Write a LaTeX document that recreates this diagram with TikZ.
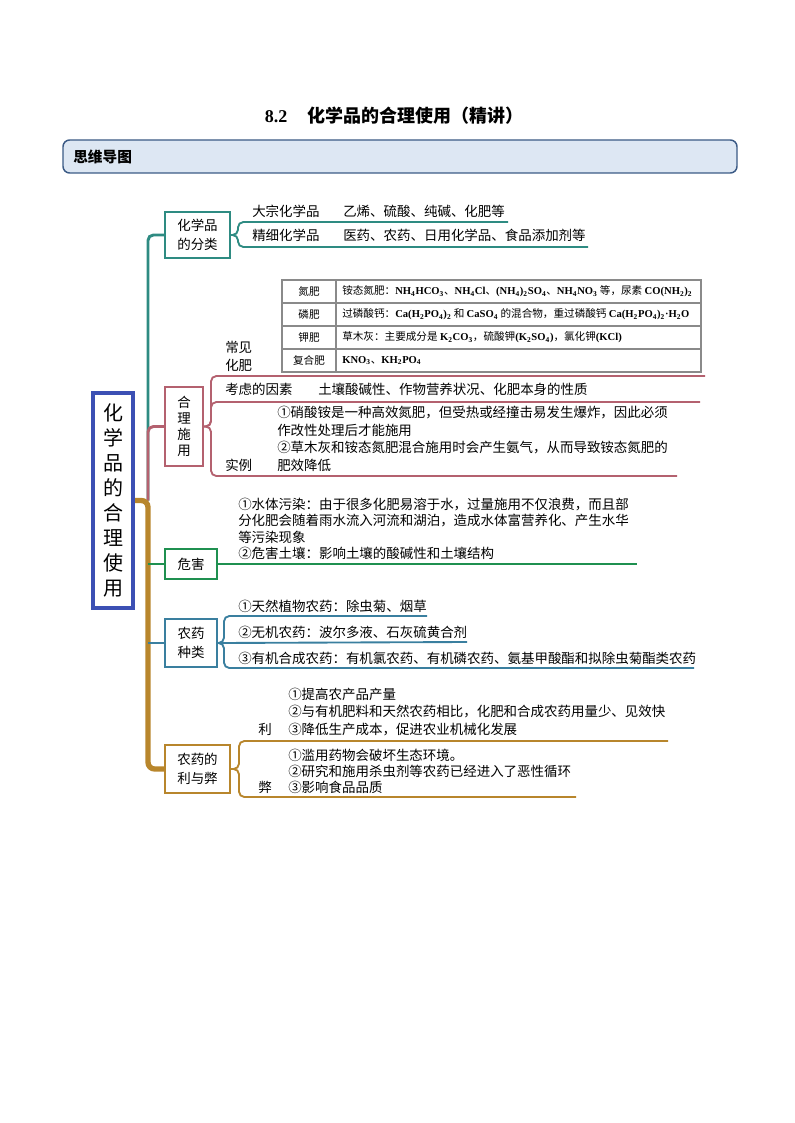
\documentclass[tikz,border=0pt]{standalone}
\usepackage{fontspec}
\setmainfont{Noto Sans CJK SC}
\newfontfamily\formfont{Liberation Serif}
\usetikzlibrary{positioning}
\definecolor{clsteal}{HTML}{2E8B82}
\definecolor{usepink}{HTML}{B4616F}
\definecolor{harmgreen}{HTML}{1F9050}
\definecolor{kindblue}{HTML}{3A7F9F}
\definecolor{progold}{HTML}{B8862C}
\definecolor{rootblue}{HTML}{3C50B4}
\definecolor{headfill}{HTML}{DDE7F3}
\definecolor{headline}{HTML}{3B5A85}
\definecolor{tablegray}{HTML}{8A8A8A}
\newcommand{\sbs}[1]{\textsubscript{#1}}
\newcommand{\fm}[1]{{\formfont\bfseries #1}}
\tikzset{
    branchbox/.style={draw, line width=1.1pt, fill=white, align=center, inner sep=0pt,
        font=\fontsize{10.1}{14}\selectfont},
    leaf/.style={anchor=west, inner sep=0pt, align=left,
        font=\fontsize{10.1}{13}\selectfont},
    cell/.style={inner sep=0pt, font=\fontsize{7.95}{9}\selectfont},
    branchline/.style={line width=2.2pt, rounded corners=4pt},
    twig/.style={line width=1.4pt, rounded corners=4pt}
}

\begin{document}
\begin{tikzpicture}[x=0.75pt, y=-0.75pt]
    \useasboundingbox (0,0) rectangle (794,1123);

    % titel en kop
    \node[inner sep=0pt, font=\fontsize{13.5}{16}\selectfont] (title) at (394,116)
        {\fm{8.2}\hspace{1.1em}\bfseries 化学品的合理使用（精讲）};
    \draw[headline, fill=headfill, line width=1.1pt, rounded corners=5pt] (63,140) rectangle (737,173);
    \node[anchor=west, inner sep=0pt, font=\fontsize{11}{13}\selectfont\bfseries] (headtext) at (73,157) {思维导图};

    % hoofdknoop en takken
    \node[draw=rootblue, line width=3pt, minimum width=30pt, minimum height=161.25pt, inner sep=0pt,
        align=center, font=\fontsize{15}{18.8}\selectfont] (root) at (113,500.5)
        {化\\学\\品\\的\\合\\理\\使\\用};

    \node[branchbox, draw=clsteal, minimum width=48.75pt, minimum height=34.5pt] (cls) at (197.5,235) {化学品\\的分类};
    \node[branchbox, draw=usepink, minimum width=28.5pt, minimum height=59.25pt,
        font=\fontsize{10.1}{12}\selectfont] (use) at (184,426.5) {合\\理\\施\\用};
    \node[branchbox, draw=harmgreen, minimum width=39pt, minimum height=22.5pt] (harm) at (191,564) {危害};
    \node[branchbox, draw=kindblue, minimum width=39pt, minimum height=36pt] (kind) at (191,643) {农药\\种类};
    \node[branchbox, draw=progold, minimum width=48.75pt, minimum height=36pt] (pro) at (197.5,769) {农药的\\利与弊};

    \coordinate (sp-top) at (148,500.5);
    \coordinate (sp-harm) at (148,564);
    \coordinate (sp-kind) at (148,643);

    \draw[clsteal, branchline] (sp-top) -- (148,235) -- (cls.west);
    \draw[usepink, branchline] (sp-top) -- (148,426.5) -- (use.west);
    \draw[progold, line width=4pt, rounded corners=5pt] (root.east) -- (sp-top) -- (148,769) -- (pro.west);
    \draw[harmgreen, line width=1.8pt] (sp-harm) -- (harm.west);
    \draw[kindblue, line width=1.8pt] (sp-kind) -- (kind.west);

    % 化学品的分类
    \coordinate (cls-a) at (508,222);
    \coordinate (cls-b) at (588,247);
    \draw[clsteal, twig] (cls.east) -- (238,235) -- (238,222) -- (cls-a);
    \draw[clsteal, twig] (cls.east) -- (238,235) -- (238,247) -- (cls-b);
    \node[leaf] (bulk) at (252,211) {大宗化学品};
    \node[leaf] (bulk-ex) at (343,211) {乙烯、硫酸、纯碱、化肥等};
    \node[leaf] (fine) at (252,235) {精细化学品};
    \node[leaf] (fine-ex) at (343,235) {医药、农药、日用化学品、食品添加剂等};

    % 合理施用
    \coordinate (use-a) at (705,376);
    \coordinate (use-b) at (700,402);
    \coordinate (use-c) at (677,476);
    \draw[usepink, twig] (use.east) -- (211,426.5) -- (211,376) -- (use-a);
    \draw[usepink, twig] (use.east) -- (211,426.5) -- (211,402) -- (use-b);
    \draw[usepink, twig] (use.east) -- (211,426.5) -- (211,476) -- (use-c);

    \draw[tablegray, line width=0.8pt] (282,280) rectangle (701,372);
    \foreach \yy in {303,326,349}
        \draw[tablegray, line width=0.8pt] (282,\yy) -- (701,\yy);
    \draw[tablegray, line width=0.8pt] (336,280) -- (336,372);
    \node[cell] (t-n) at (309,291.5) {氮肥};
    \node[cell] (t-p) at (309,314.5) {磷肥};
    \node[cell] (t-k) at (309,337.5) {钾肥};
    \node[cell] (t-c) at (309,360.5) {复合肥};
    \node[cell, anchor=west] (t-n-ex) at (342,291.5)
        {铵态氮肥：\fm{NH\sbs{4}HCO\sbs{3}}、\fm{NH\sbs{4}Cl}、\fm{(NH\sbs{4})\sbs{2}SO\sbs{4}}、\fm{NH\sbs{4}NO\sbs{3}} 等，尿素 \fm{CO(NH\sbs{2})\sbs{2}}};
    \node[cell, anchor=west] (t-p-ex) at (342,314.5)
        {过磷酸钙：\fm{Ca(H\sbs{2}PO\sbs{4})\sbs{2}} 和 \fm{CaSO\sbs{4}} 的混合物，重过磷酸钙 \fm{Ca(H\sbs{2}PO\sbs{4})\sbs{2}·H\sbs{2}O}};
    \node[cell, anchor=west] (t-k-ex) at (342,337.5)
        {草木灰：主要成分是 \fm{K\sbs{2}CO\sbs{3}}，硫酸钾\fm{(K\sbs{2}SO\sbs{4})}，氯化钾\fm{(KCl)}};
    \node[cell, anchor=west] (t-c-ex) at (342,360.5) {\fm{KNO\sbs{3}}、\fm{KH\sbs{2}PO\sbs{4}}};

    \node[leaf] (common) at (225,356.5) {常见\\化肥};
    \node[leaf] (factor) at (225,389) {考虑的因素};
    \node[leaf] (factor-ex) at (318,389) {土壤酸碱性、作物营养状况、化肥本身的性质};
    \node[leaf, font=\fontsize{10.1}{13.3}\selectfont] (case-ex) at (277,438.75)
        {①硝酸铵是一种高效氮肥，但受热或经撞击易发生爆炸，因此必须\\作改性处理后才能施用\\②草木灰和铵态氮肥混合施用时会产生氨气，从而导致铵态氮肥的\\肥效降低};
    \node[leaf] (case) at (225,465) {实例};

    % 危害
    \coordinate (harm-a) at (637,564);
    \draw[harmgreen, line width=1.4pt] (harm.east) -- (harm-a);
    \node[leaf, font=\fontsize{10.1}{12.4}\selectfont] (harm-ex) at (238,529)
        {①水体污染：由于很多化肥易溶于水，过量施用不仅浪费，而且部\\分化肥会随着雨水流入河流和湖泊，造成水体富营养化、产生水华\\等污染现象\\②危害土壤：影响土壤的酸碱性和土壤结构};

    % 农药种类
    \coordinate (kind-a) at (427,616);
    \coordinate (kind-b) at (467,642);
    \coordinate (kind-c) at (694,668);
    \draw[kindblue, twig] (kind.east) -- (224,643) -- (224,616) -- (kind-a);
    \draw[kindblue, twig] (kind.east) -- (kind-b);
    \draw[kindblue, twig] (kind.east) -- (224,643) -- (224,668) -- (kind-c);
    \node[leaf] (natural) at (238,606) {①天然植物农药：除虫菊、烟草};
    \node[leaf] (inorg) at (238,632) {②无机农药：波尔多液、石灰硫黄合剂};
    \node[leaf] (synth) at (238,658) {③有机合成农药：有机氯农药、有机磷农药、氨基甲酸酯和拟除虫菊酯类农药};

    % 农药的利与弊
    \coordinate (pro-a) at (668,741);
    \coordinate (pro-b) at (576,797);
    \draw[progold, twig] (pro.east) -- (239,769) -- (239,741) -- (pro-a);
    \draw[progold, twig] (pro.east) -- (239,769) -- (239,797) -- (pro-b);
    \node[leaf] (gain) at (258,729) {利};
    \node[leaf] (gain-ex) at (288,712)
        {①提高农产品产量\\②与有机肥料和天然农药相比，化肥和合成农药用量少、见效快\\③降低生产成本，促进农业机械化发展};
    \node[leaf] (loss) at (258,787) {弊};
    \node[leaf, font=\fontsize{10.1}{12}\selectfont] (loss-ex) at (288,771)
        {①滥用药物会破坏生态环境。\\②研究和施用杀虫剂等农药已经进入了恶性循环\\③影响食品品质};
\end{tikzpicture}
\end{document}
